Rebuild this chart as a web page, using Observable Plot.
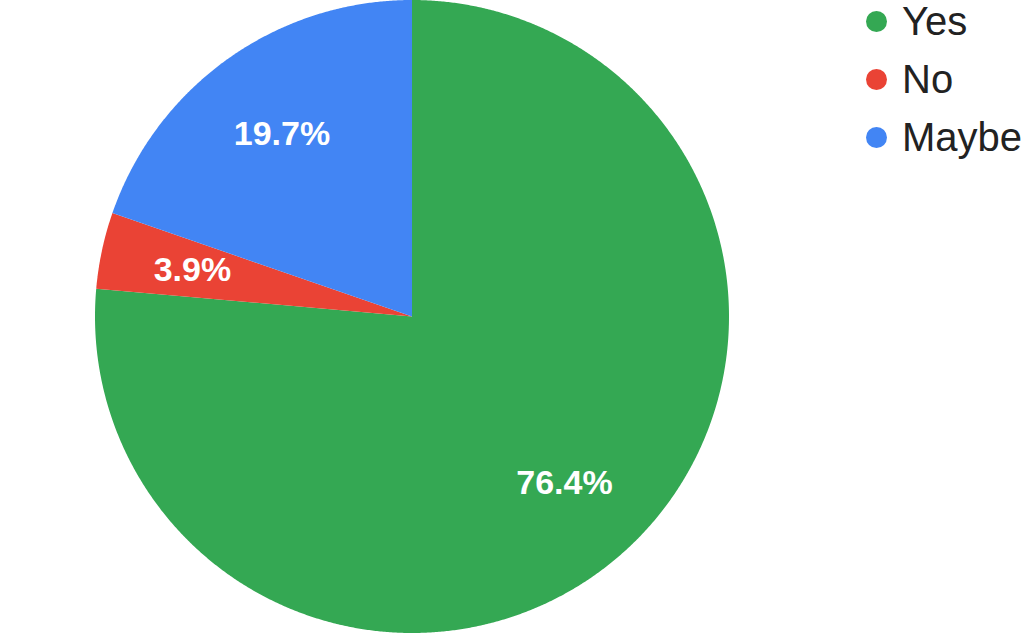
<!DOCTYPE html>
<html>
<head>
<meta charset="utf-8">
<script src="https://cdn.jsdelivr.net/npm/d3@7"></script>
<script src="https://cdn.jsdelivr.net/npm/@observablehq/plot@0.6"></script>
<style>
  html, body { margin: 0; padding: 0; background: #fff; }
  #wrap { position: relative; width: 1024px; height: 633px; overflow: hidden; }
  #legend { position: absolute; left: 866px; top: 0; font-family: "Liberation Sans", Arial, sans-serif; font-size: 40px; line-height: 40px; color: #222; }
  .item { position: absolute; white-space: nowrap; display: flex; align-items: center; height: 40px; }
  .sw { width: 21px; height: 21px; border-radius: 50%; margin-right: 15px; }
</style>
</head>
<body>
<div id="wrap"><div id="chart"></div><div id="legend"></div></div>
<script>
const categories = ["Yes", "No", "Maybe"];
const values = [76.4, 3.9, 19.7];
const colors = ["#34a853", "#ea4335", "#4285f4"];
const labels = ["76.4%", "3.9%", "19.7%"];

const data = categories.map((c, i) => ({category: c, value: values[i], label: labels[i]}));
const pie = d3.pie().sort(null).value(d => d.value)(data);

// Wedge outlines in unit-circle coordinates (angle measured clockwise from top)
const wedges = [];
pie.forEach(p => {
  const n = Math.max(2, Math.ceil((p.endAngle - p.startAngle) / 0.005));
  for (let k = 0; k <= n; k++) {
    const a = p.startAngle + (p.endAngle - p.startAngle) * k / n;
    wedges.push({category: p.data.category, x: Math.sin(a), y: Math.cos(a)});
  }
});
const labelPos = pie.map(p => {
  const a = (p.startAngle + p.endAngle) / 2;
  const f = 0.71;
  return {label: p.data.label, x: f * Math.sin(a), y: f * Math.cos(a)};
});

const chart = Plot.plot({
  width: 1024,
  height: 633,
  marginLeft: 95,
  marginRight: 295,
  marginTop: 0,
  marginBottom: 0,
  x: {domain: [-1, 1], axis: null},
  y: {domain: [-1, 1], axis: null},
  color: {domain: categories, range: colors},
  style: {background: "white"},
  marks: [
    Plot.area(wedges, {x1: 0, y1: 0, x2: "x", y2: "y", z: "category", fill: "category", curve: "linear"}),
    Plot.text(labelPos, {x: "x", y: "y", text: "label", fill: "white", fontSize: 34, fontWeight: "bold",
      fontFamily: "Liberation Sans, Arial, sans-serif"})
  ]
});
document.getElementById("chart").appendChild(chart);

const legend = document.getElementById("legend");
const tops = [1, 59, 117];
categories.forEach((c, i) => {
  const d = document.createElement("div");
  d.className = "item";
  d.style.top = tops[i] + "px";
  d.innerHTML = `<span class="sw" style="background:${colors[i]}"></span><span>${c}</span>`;
  legend.appendChild(d);
});
</script>
</body>
</html>
